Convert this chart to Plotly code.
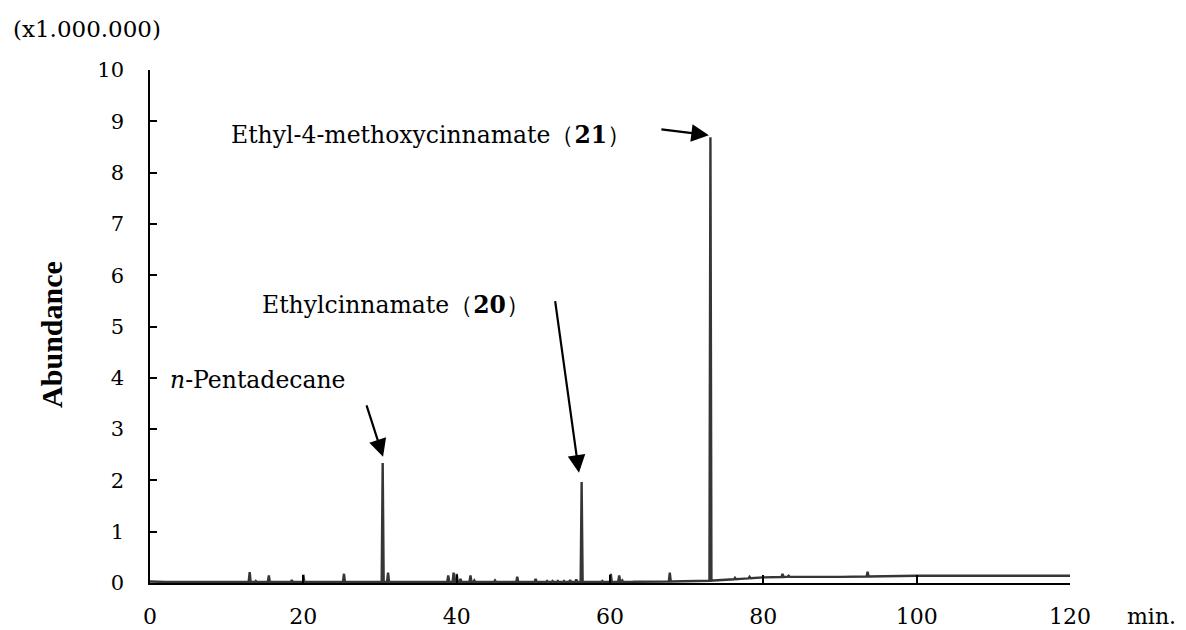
import numpy as np
import plotly.graph_objects as go

# Baseline of the chromatogram (time in min, abundance x1,000,000)
base_t = [0, 2, 5, 10, 20, 30, 40, 50, 60, 70, 72.8, 73.5, 75, 77, 80, 83, 90, 100, 110, 120]
base_v = [0.03, 0.02, 0.02, 0.02, 0.02, 0.02, 0.02, 0.02, 0.02, 0.03, 0.04, 0.05, 0.06, 0.08, 0.11, 0.12, 0.12, 0.14, 0.14, 0.14]

# Peak apex times and apex heights
peak_t = [10.0, 13.0, 13.8, 15.5, 18.5, 20.0, 25.3, 30.35, 31.05, 34.0, 38.9, 39.6, 40.0, 40.5,
          41.8, 42.3, 45.0, 47.9, 50.3, 51.8, 52.5, 53.2, 54.0, 54.8, 55.6, 56.3, 59.0, 60.1,
          61.2, 61.6, 63.0, 67.8, 70.0, 71.5, 73.1, 76.3, 78.2, 82.5, 83.3, 93.6]
peak_h = [0.03, 0.21, 0.04, 0.15, 0.06, 0.16, 0.18, 2.34, 0.20, 0.03, 0.15, 0.20, 0.18, 0.08,
          0.15, 0.05, 0.05, 0.12, 0.08, 0.04, 0.04, 0.04, 0.04, 0.06, 0.07, 1.97, 0.04, 0.18,
          0.15, 0.05, 0.03, 0.20, 0.03, 0.04, 8.69, 0.10, 0.12, 0.18, 0.14, 0.22]

x_ticks = [0, 20, 40, 60, 80, 100, 120]
y_ticks = list(range(0, 11))

# assemble trace
half = 0.13
pts = [(t, v) for t, v in zip(base_t, base_v)]
for t, h in zip(peak_t, peak_h):
    b0 = float(np.interp(t - half, base_t, base_v))
    b1 = float(np.interp(t + half, base_t, base_v))
    pts += [(t - half, b0), (t, h), (t + half, b1)]
pts.sort(key=lambda p: p[0])
xs = [p[0] for p in pts]
ys = [p[1] for p in pts]

fig = go.Figure()
fig.add_trace(go.Scatter(x=xs, y=ys, mode="lines",
                         line=dict(color="#363636", width=2.4), showlegend=False,
                         hoverinfo="skip"))

SERIF = "DejaVu Serif"
ann_font = dict(family=SERIF, size=23.5, color="black")

annotations = [
    dict(x=10.3, y=8.73, xref="x", yref="y", xanchor="left", yanchor="middle",
         text="Ethyl-4-methoxycinnamate（<b>21</b>）", showarrow=False, font=ann_font),
    dict(x=14.35, y=5.42, xref="x", yref="y", xanchor="left", yanchor="middle",
         text="Ethylcinnamate（<b>20</b>）", showarrow=False, font=ann_font),
    dict(x=2.35, y=3.96, xref="x", yref="y", xanchor="left", yanchor="middle",
         text="<i>n</i>-Pentadecane", showarrow=False, font=ann_font),
    # arrows
    dict(x=72.9, y=8.73, xref="x", yref="y", text="", showarrow=True, ax=-49, ay=-6,
         arrowhead=2, arrowsize=1.6, arrowwidth=2.2, arrowcolor="black"),
    dict(x=55.95, y=2.15, xref="x", yref="y", text="", showarrow=True, ax=-24, ay=-173,
         arrowhead=2, arrowsize=1.6, arrowwidth=2.2, arrowcolor="black"),
    dict(x=30.4, y=2.46, xref="x", yref="y", text="", showarrow=True, ax=-17, ay=-53,
         arrowhead=2, arrowsize=1.6, arrowwidth=2.2, arrowcolor="black"),
    dict(x=-0.0685, y=1.08, xref="paper", yref="paper", text="(x1.000.000)",
         showarrow=False, font=dict(family=SERIF, size=23, color="black"),
         xanchor="center", yanchor="middle"),
    dict(x=1.089, y=-0.066, xref="paper", yref="paper", text="min.",
         showarrow=False, font=dict(family=SERIF, size=22, color="black"),
         xanchor="center", yanchor="middle"),
    dict(x=-0.1065, y=0.4837, xref="paper", yref="paper", text="<b>Abundance</b>",
         textangle=-90, showarrow=False,
         font=dict(family="Liberation Serif", size=30, color="black"),
         xanchor="center", yanchor="middle"),
]

# page body has an 8px margin: compensate so the figure sits in the window
fig.update_layout(
    width=1178, height=622, autosize=False,
    margin=dict(l=142, r=116, t=62, b=47, autoexpand=False),
    paper_bgcolor="white", plot_bgcolor="white",
    annotations=annotations,
    showlegend=False,
)
fig.update_xaxes(range=[0, 120], tickvals=x_ticks, ticktext=[str(v) for v in x_ticks],
                 ticks="inside", ticklen=8, tickwidth=1.5, tickcolor="black",
                 showline=True, linecolor="black", linewidth=1.5,
                 showgrid=False, zeroline=False, automargin=False,
                 tickfont=dict(family=SERIF, size=22, color="black"),
                 ticklabelstandoff=13)
fig.update_yaxes(range=[0, 10], tickvals=y_ticks, ticktext=[str(v) for v in y_ticks],
                 ticks="inside", ticklen=7, tickwidth=1.5, tickcolor="black",
                 showline=True, linecolor="black", linewidth=1.5,
                 showgrid=False, zeroline=False, automargin=False,
                 tickfont=dict(family=SERIF, size=21, color="black"),
                 ticklabelstandoff=20)

fig.write_html("out.html")
